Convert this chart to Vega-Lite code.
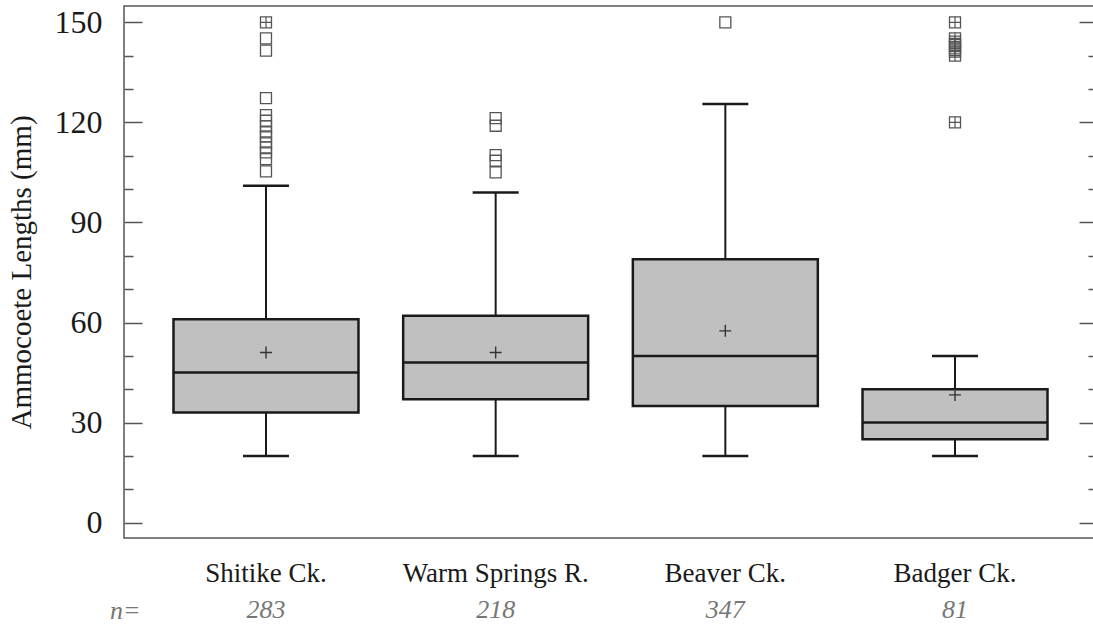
{
  "$schema": "https://vega.github.io/schema/vega-lite/v6.json",
  "width": 973,
  "height": 532,
  "autosize": "none",
  "padding": {"left": 124, "top": 6, "right": 0, "bottom": 87},
  "background": "white",
  "config": {
    "view": {"stroke": "#555555", "strokeWidth": 1.5},
    "font": "Times New Roman, Liberation Serif, serif",
    "axis": {"domain": false, "grid": false, "tickColor": "#555555", "tickWidth": 1.5, "labelFont": "Times New Roman, Liberation Serif, serif", "titleFont": "Times New Roman, Liberation Serif, serif", "labelLimit": 0}
  },
  "datasets": {
    "stats": [
      {"site": "Shitike Ck.", "n": 283, "lo": 20, "q1": 33, "median": 45, "q3": 61, "hi": 101, "mean": 51},
      {"site": "Warm Springs R.", "n": 218, "lo": 20, "q1": 37, "median": 48, "q3": 62, "hi": 99, "mean": 51},
      {"site": "Beaver Ck.", "n": 347, "lo": 20, "q1": 35, "median": 50, "q3": 79, "hi": 125.5, "mean": 57.5},
      {"site": "Badger Ck.", "n": 81, "lo": 20, "q1": 25, "median": 30, "q3": 40, "hi": 50, "mean": 38.3}
    ],
    "outliers": [
      {"site": "Shitike Ck.", "value": 150, "multi": true},
      {"site": "Shitike Ck.", "value": 145.2, "multi": false},
      {"site": "Shitike Ck.", "value": 141.5, "multi": false},
      {"site": "Shitike Ck.", "value": 127.3, "multi": false},
      {"site": "Shitike Ck.", "value": 122.2, "multi": false},
      {"site": "Shitike Ck.", "value": 120.5, "multi": false},
      {"site": "Shitike Ck.", "value": 118.8, "multi": false},
      {"site": "Shitike Ck.", "value": 117, "multi": false},
      {"site": "Shitike Ck.", "value": 115.8, "multi": false},
      {"site": "Shitike Ck.", "value": 114, "multi": false},
      {"site": "Shitike Ck.", "value": 112.5, "multi": false},
      {"site": "Shitike Ck.", "value": 111, "multi": false},
      {"site": "Shitike Ck.", "value": 109, "multi": false},
      {"site": "Shitike Ck.", "value": 105.3, "multi": false},
      {"site": "Warm Springs R.", "value": 121.3, "multi": false},
      {"site": "Warm Springs R.", "value": 119, "multi": false},
      {"site": "Warm Springs R.", "value": 110.2, "multi": false},
      {"site": "Warm Springs R.", "value": 108.5, "multi": false},
      {"site": "Warm Springs R.", "value": 105, "multi": false},
      {"site": "Beaver Ck.", "value": 150, "multi": false},
      {"site": "Badger Ck.", "value": 150, "multi": true},
      {"site": "Badger Ck.", "value": 145.2, "multi": true},
      {"site": "Badger Ck.", "value": 144.2, "multi": true},
      {"site": "Badger Ck.", "value": 143.2, "multi": true},
      {"site": "Badger Ck.", "value": 142.2, "multi": true},
      {"site": "Badger Ck.", "value": 141.2, "multi": true},
      {"site": "Badger Ck.", "value": 140, "multi": true},
      {"site": "Badger Ck.", "value": 120, "multi": true}
    ]
  },
  "resolve": {"axis": {"x": "independent", "y": "independent"}},
  "layer": [
    {
      "data": {"name": "stats"},
      "mark": {"type": "rule", "color": "#1a1a1a", "strokeWidth": 2},
      "encoding": {
        "x": {
          "field": "site", "type": "nominal",
          "sort": ["Shitike Ck.", "Warm Springs R.", "Beaver Ck.", "Badger Ck."],
          "scale": {"paddingInner": 0.1946, "paddingOuter": 0.2155},
          "axis": {"orient": "bottom", "title": null, "ticks": false, "labelAngle": 0, "labelFontSize": 27, "labelColor": "#1a1a1a", "labelPadding": 22, "labelBaseline": "top"}
        },
        "y": {
          "field": "lo", "type": "quantitative",
          "scale": {"domain": [-4.6, 154.9], "nice": false, "zero": false},
          "axis": {
            "orient": "left",
            "values": [0, 10, 20, 30, 40, 50, 60, 70, 80, 90, 100, 110, 120, 130, 140, 150],
            "labelExpr": "datum.value % 30 === 0 ? datum.label : ''",
            "tickSize": {"condition": {"test": "datum.value % 30 === 0", "value": -18}, "value": -9},
            "labelFontSize": 32, "labelColor": "#1a1a1a", "labelPadding": 40,
            "title": "Ammocoete Lengths (mm)", "titleFontSize": 29, "titleFontWeight": "normal", "titleColor": "#1a1a1a", "titlePadding": 18
          }
        },
        "y2": {"field": "q1"}
      }
    },
    {
      "data": {"name": "stats"},
      "mark": {"type": "rule", "color": "#1a1a1a", "strokeWidth": 2},
      "encoding": {
        "x": {
          "field": "site", "type": "nominal",
          "sort": ["Shitike Ck.", "Warm Springs R.", "Beaver Ck.", "Badger Ck."],
          "axis": {
            "orient": "bottom", "ticks": false, "labelAngle": 0,
            "labelExpr": "datum.value === 'Shitike Ck.' ? '283' : datum.value === 'Warm Springs R.' ? '218' : datum.value === 'Beaver Ck.' ? '347' : '81'",
            "labelFontSize": 26, "labelFontStyle": "italic", "labelColor": "#777777", "labelPadding": 58, "labelBaseline": "top",
            "title": "n=", "titleFontSize": 26, "titleFontStyle": "italic", "titleFontWeight": "normal", "titleColor": "#777777",
            "titleX": 16, "titleY": 80, "titleAlign": "right", "titleBaseline": "alphabetic", "titleAngle": 0
          }
        },
        "y": {
          "field": "q3", "type": "quantitative",
          "axis": {
            "orient": "right",
            "values": [0, 10, 20, 30, 40, 50, 60, 70, 80, 90, 100, 110, 120, 130, 140, 150],
            "labels": false, "title": null,
            "tickSize": {"condition": {"test": "datum.value % 30 === 0", "value": -18}, "value": -9}
          }
        },
        "y2": {"field": "hi"}
      }
    },
    {
      "data": {"name": "stats"},
      "mark": {"type": "bar", "fill": "#c0c0c0", "stroke": "#1a1a1a", "strokeWidth": 2.5},
      "encoding": {
        "x": {"field": "site", "type": "nominal", "sort": ["Shitike Ck.", "Warm Springs R.", "Beaver Ck.", "Badger Ck."], "axis": null},
        "y": {"field": "q1", "type": "quantitative", "axis": null},
        "y2": {"field": "q3"}
      }
    },
    {
      "data": {"name": "stats"},
      "mark": {"type": "tick", "color": "#1a1a1a", "size": 185, "thickness": 2.5, "opacity": 1},
      "encoding": {
        "x": {"field": "site", "type": "nominal", "sort": ["Shitike Ck.", "Warm Springs R.", "Beaver Ck.", "Badger Ck."], "axis": null},
        "y": {"field": "median", "type": "quantitative", "axis": null}
      }
    },
    {
      "data": {"name": "stats"},
      "mark": {"type": "tick", "color": "#1a1a1a", "size": 46, "thickness": 2.5, "opacity": 1},
      "encoding": {
        "x": {"field": "site", "type": "nominal", "sort": ["Shitike Ck.", "Warm Springs R.", "Beaver Ck.", "Badger Ck."], "axis": null},
        "y": {"field": "lo", "type": "quantitative", "axis": null}
      }
    },
    {
      "data": {"name": "stats"},
      "mark": {"type": "tick", "color": "#1a1a1a", "size": 46, "thickness": 2.5, "opacity": 1},
      "encoding": {
        "x": {"field": "site", "type": "nominal", "sort": ["Shitike Ck.", "Warm Springs R.", "Beaver Ck.", "Badger Ck."], "axis": null},
        "y": {"field": "hi", "type": "quantitative", "axis": null}
      }
    },
    {
      "data": {"name": "stats"},
      "mark": {"type": "point", "shape": "M-1,0H1M0,-1V1", "size": 144, "stroke": "#333333", "strokeWidth": 1.4, "filled": false, "opacity": 1},
      "encoding": {
        "x": {"field": "site", "type": "nominal", "sort": ["Shitike Ck.", "Warm Springs R.", "Beaver Ck.", "Badger Ck."], "axis": null},
        "y": {"field": "mean", "type": "quantitative", "axis": null}
      }
    },
    {
      "data": {"name": "outliers"},
      "mark": {"type": "point", "shape": "square", "size": 121, "stroke": "#555555", "strokeWidth": 1.3, "filled": false, "opacity": 1},
      "encoding": {
        "x": {"field": "site", "type": "nominal", "sort": ["Shitike Ck.", "Warm Springs R.", "Beaver Ck.", "Badger Ck."], "axis": null},
        "y": {"field": "value", "type": "quantitative", "axis": null}
      }
    },
    {
      "data": {"name": "outliers"},
      "transform": [{"filter": "datum.multi"}],
      "mark": {"type": "point", "shape": "M-1,0H1M0,-1V1", "size": 121, "stroke": "#555555", "strokeWidth": 1.2, "filled": false, "opacity": 1},
      "encoding": {
        "x": {"field": "site", "type": "nominal", "sort": ["Shitike Ck.", "Warm Springs R.", "Beaver Ck.", "Badger Ck."], "axis": null},
        "y": {"field": "value", "type": "quantitative", "axis": null}
      }
    }
  ]
}
